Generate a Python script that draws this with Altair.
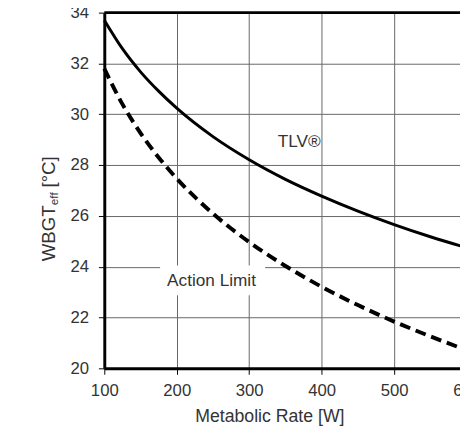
import altair as alt
import pandas as pd

# Metabolic rate [W] and read-off curve values [°C]
rate = [100, 125, 150, 175, 200, 250, 300, 350, 400, 450, 500, 550, 600, 650]
tlv = [33.70, 32.58, 31.67, 30.91, 30.24, 29.12, 28.21, 27.44, 26.78, 26.19, 25.66, 25.18, 24.75, 24.35]
action = [31.80, 30.40, 29.26, 28.30, 27.47, 26.09, 24.97, 24.03, 23.21, 22.49, 21.84, 21.26, 20.72, 20.23]

x_ticks = [100, 200, 300, 400, 500, 600]
y_ticks = [20, 22, 24, 26, 28, 30, 32, 34]

# annotation labels (data coordinates)
ann_text = ["TLV®", "Action Limit"]
ann_x = [369, 248]
ann_y = [28.9, 23.45]

FONT = "Liberation Sans"
TXT = "#333333"

df = pd.DataFrame({"rate": rate, "tlv": tlv, "action": action})
ann = pd.DataFrame({"t": ann_text, "x": ann_x, "y": ann_y})
box = pd.DataFrame({"x": [177], "x2": [322], "y": [24.05], "y2": [22.88]})

xscale = alt.Scale(domain=[100, 600], range=[0, 368.7], nice=False, zero=False)
yscale = alt.Scale(domain=[20, 34], nice=False, zero=False)

xaxis = alt.Axis(
    values=x_ticks, title="Metabolic Rate [W]", grid=True, gridColor="#666666",
    gridWidth=1, domainColor="black", domainWidth=3, tickColor="black", tickSize=6,
    tickWidth=1, labelFont=FONT, labelFontSize=17, labelColor=TXT, labelPadding=9,
    titleFont=FONT, titleFontSize=18, titleColor=TXT, titleFontWeight="normal",
    titlePadding=9, titleX=168, titleAlign="center", labelFlush=False, format="d",
)
yaxis = alt.Axis(
    values=y_ticks, title=None, grid=True, gridColor="#666666", gridWidth=1,
    domainColor="black", domainWidth=3, tickColor="black", tickSize=6, tickWidth=1,
    labelFont=FONT, labelFontSize=17, labelColor=TXT, labelPadding=10, format="d",
)

base = alt.Chart(df)

solid = base.mark_line(color="black", strokeWidth=3, interpolate="monotone").encode(
    x=alt.X("rate:Q", scale=xscale, axis=xaxis),
    y=alt.Y("tlv:Q", scale=yscale, axis=yaxis),
)
dashed = base.mark_line(color="black", strokeWidth=4, strokeDash=[11, 6],
                        interpolate="monotone").encode(
    x=alt.X("rate:Q", scale=xscale),
    y=alt.Y("action:Q", scale=yscale),
)

toprule = alt.Chart(pd.DataFrame({"v": [34]})).mark_rule(
    color="black", strokeWidth=3).encode(y=alt.Y("v:Q", scale=yscale))

bg = alt.Chart(box).mark_rect(color="white").encode(
    x="x:Q", x2="x2", y="y:Q", y2="y2")

labels = alt.Chart(ann).mark_text(
    font=FONT, fontSize=17.5, color=TXT, align="center", baseline="middle").encode(
    x="x:Q", y="y:Q", text="t:N")

t1 = alt.Chart(pd.DataFrame({"t": ["WBGT"]})).mark_text(
    font=FONT, fontSize=19, color=TXT, angle=270, align="left",
    baseline="alphabetic").encode(x=alt.value(-50), y=alt.value(253), text="t:N")
t2 = alt.Chart(pd.DataFrame({"t": ["eff"]})).mark_text(
    font=FONT, fontSize=12, color=TXT, angle=270, align="left",
    baseline="alphabetic").encode(x=alt.value(-47), y=alt.value(196), text="t:N")
t3 = alt.Chart(pd.DataFrame({"t": ["[°C]"]})).mark_text(
    font=FONT, fontSize=19, color=TXT, angle=270, align="left",
    baseline="alphabetic").encode(x=alt.value(-50), y=alt.value(178), text="t:N")

chart = alt.layer(bg, solid, dashed, toprule, labels, t1, t2, t3).properties(
    width=362, height=362,
    autosize=alt.AutoSizeParams(type="none"),
    padding={"left": 98, "top": 1, "right": 0, "bottom": 58},
).configure_view(stroke=None).configure(background="white")

chart.save("out.html", embed_options={"renderer": "svg", "actions": False})
